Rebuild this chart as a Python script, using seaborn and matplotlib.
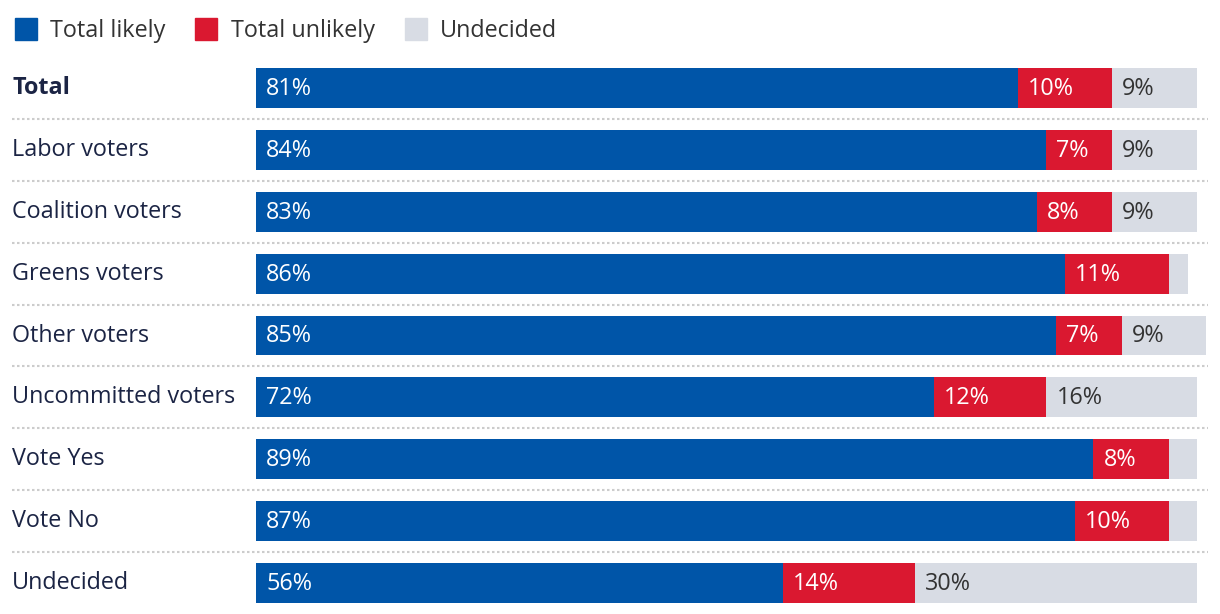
import matplotlib
matplotlib.use("Agg")
from matplotlib import pyplot as plt
import matplotlib.transforms as mtransforms
from matplotlib.lines import Line2D
import seaborn as sns
import pandas as pd

groups = ['Total', 'Labor voters', 'Coalition voters', 'Greens voters', 'Other voters',
          'Uncommitted voters', 'Vote Yes', 'Vote No', 'Undecided']
likely = [81, 84, 83, 86, 85, 72, 89, 87, 56]
unlikely = [10, 7, 8, 11, 7, 12, 8, 10, 14]
undecided = [9, 9, 9, 2, 9, 16, 3, 3, 30]

BLUE = '#0055a8'
RED = '#da1830'
GRAY = '#d8dce4'
NAVY = '#1b2444'

df = pd.DataFrame({'group': groups, 'likely': likely, 'unlikely': unlikely, 'undecided': undecided})
df['to_red'] = df['likely'] + df['unlikely']
df['to_gray'] = df['to_red'] + df['undecided']

sns.set_style('white')
plt.rcParams['font.family'] = ['Open Sans', 'DejaVu Sans']

fig = plt.figure(figsize=(12.2, 6.14), dpi=100)
ax = fig.add_axes([256 / 1220, 0, (1197 - 256) / 1220, 1 - 57 / 614])

# stacked bars drawn as cumulative totals, back to front
bw = 40 / 62
sns.barplot(data=df, x='to_gray', y='group', color=GRAY, width=bw, saturation=1, linewidth=0, ax=ax, clip_on=False)
sns.barplot(data=df, x='to_red', y='group', color=RED, width=bw, saturation=1, linewidth=0, ax=ax)
sns.barplot(data=df, x='likely', y='group', color=BLUE, width=bw, saturation=1, linewidth=0, ax=ax)

ax.set_xlim(0, 100)
ax.set_ylim(len(groups) - 0.5, -0.5)
for s in ax.spines.values():
    s.set_visible(False)
ax.set_xticks([])
ax.set_yticks([])
ax.set_xlabel('')
ax.set_ylabel('')

pad = mtransforms.offset_copy(ax.transData, fig=fig, x=10, y=-1, units='dots')
fs = 16.8
for i, row in df.iterrows():
    ax.text(0, i, f"{row['likely']}%", transform=pad, color='white', va='center', ha='left', fontsize=fs)
    ax.text(row['likely'], i, f"{row['unlikely']}%", transform=pad, color='white', va='center', ha='left', fontsize=fs)
    if row['undecided'] >= 5:
        ax.text(row['to_red'], i, f"{row['undecided']}%", transform=pad, color='#333333', va='center', ha='left', fontsize=fs)
    # category label
    ax.text(12 / 1220, i, row['group'], transform=mtransforms.blended_transform_factory(fig.transFigure, ax.transData),
            color=NAVY, va='center', ha='left', fontsize=fs, fontweight='bold' if i == 0 else 'normal')

# dotted separators between rows
sep_tr = mtransforms.blended_transform_factory(fig.transFigure, ax.transData)
for i in range(len(groups) - 1):
    ax.plot([12 / 1220, 1208 / 1220], [i + 0.5, i + 0.5], transform=sep_tr, color='#cccccc',
            linestyle=(0, (1.2, 1.2)), linewidth=1.5, clip_on=False)

handles = [Line2D([], [], marker='s', linestyle='', markersize=16, markerfacecolor=c, markeredgecolor=c)
           for c in (BLUE, RED, GRAY)]
fig.legend(handles, ['Total likely', 'Total unlikely', 'Undecided'], loc='upper left',
           bbox_to_anchor=(0.0, 1 - 4 / 614), ncol=3, frameon=False, fontsize=fs, handlelength=0.9,
           handletextpad=0.6, columnspacing=1.3, labelcolor='#333333', borderaxespad=0.15,
           borderpad=0.5)

fig.savefig('out.png', dpi=100)
